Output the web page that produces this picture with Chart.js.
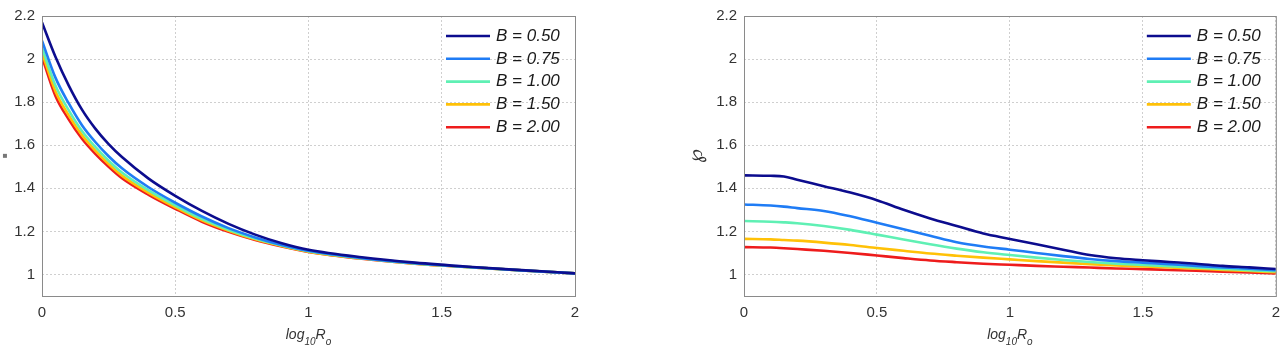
<!DOCTYPE html>
<html>
<head>
<meta charset="utf-8">
<script src="https://cdn.jsdelivr.net/npm/chart.js@4.4.0/dist/chart.umd.min.js"></script>
<style>
    body { margin: 0; background: #fff; width: 1288px; height: 348px; overflow: hidden; position: relative; }
    .panel { position: absolute; top: 0; height: 348px; }
</style>
</head>
<body>
<div class="panel" style="left:0;width:640px"><canvas id="leftChart"></canvas></div>
<div class="panel" style="left:644px;width:644px"><canvas id="rightChart"></canvas></div>
<script>
// Series names and colours
const seriesLabels = ['B = 0.50', 'B = 0.75', 'B = 1.00', 'B = 1.50', 'B = 2.00'];
const seriesColors = ['#0c0c8e', '#1f7cf5', '#5ff0b4', '#ffc107', '#ee1c1c'];

// Axis ticks
const xTickValues = [0, 0.5, 1, 1.5, 2];
const yTickValues = [1, 1.2, 1.4, 1.6, 1.8, 2, 2.2];

// Left panel
const xLeft = [0, 0.05, 0.1, 0.15, 0.2, 0.25, 0.3, 0.4, 0.5, 0.6, 0.7, 0.8, 0.9, 1.0, 1.2, 1.4, 1.6, 1.8, 2.0];
const leftB050 = [2.17, 2.012, 1.878, 1.765, 1.677, 1.605, 1.545, 1.445, 1.365, 1.295, 1.235, 1.185, 1.145, 1.115, 1.08, 1.055, 1.036, 1.02, 1.005];
const leftB075 = [2.085, 1.915, 1.795, 1.693, 1.615, 1.549, 1.493, 1.405, 1.333, 1.269, 1.215, 1.172, 1.137, 1.11, 1.076, 1.052, 1.035, 1.019, 1.005];
const leftB100 = [2.053, 1.878, 1.763, 1.666, 1.592, 1.528, 1.473, 1.39, 1.321, 1.258, 1.208, 1.167, 1.134, 1.108, 1.075, 1.051, 1.034, 1.019, 1.005];
const leftB150 = [2.03, 1.852, 1.739, 1.647, 1.575, 1.513, 1.459, 1.379, 1.312, 1.251, 1.203, 1.163, 1.132, 1.106, 1.074, 1.05, 1.034, 1.019, 1.005];
const leftB200 = [2.01, 1.83, 1.72, 1.63, 1.56, 1.50, 1.447, 1.37, 1.305, 1.245, 1.198, 1.16, 1.13, 1.105, 1.073, 1.05, 1.034, 1.019, 1.005];

// Right panel
const xRight = [0, 0.1, 0.15, 0.2, 0.3, 0.4, 0.5, 0.6, 0.7, 0.8, 0.9, 1.0, 1.1, 1.2, 1.3, 1.4, 1.5, 1.6, 1.7, 1.8, 1.9, 2.0];
const rightB050 = [1.46, 1.458, 1.455, 1.44, 1.41, 1.38, 1.345, 1.30, 1.26, 1.225, 1.19, 1.165, 1.14, 1.115, 1.09, 1.075, 1.066, 1.058, 1.05, 1.04, 1.033, 1.025];
const rightB075 = [1.325, 1.32, 1.315, 1.308, 1.295, 1.27, 1.24, 1.21, 1.18, 1.15, 1.13, 1.115, 1.10, 1.085, 1.072, 1.062, 1.055, 1.048, 1.04, 1.033, 1.027, 1.02];
const rightB100 = [1.248, 1.245, 1.242, 1.238, 1.225, 1.207, 1.185, 1.162, 1.14, 1.12, 1.103, 1.09, 1.078, 1.067, 1.058, 1.05, 1.044, 1.038, 1.032, 1.026, 1.02, 1.015];
const rightB150 = [1.165, 1.163, 1.16, 1.157, 1.148, 1.137, 1.123, 1.11, 1.097, 1.087, 1.078, 1.07, 1.062, 1.055, 1.048, 1.042, 1.037, 1.032, 1.027, 1.021, 1.016, 1.01];
const rightB200 = [1.127, 1.125, 1.122, 1.118, 1.11, 1.10, 1.088, 1.076, 1.065, 1.057, 1.05, 1.045, 1.04, 1.036, 1.032, 1.028, 1.025, 1.021, 1.017, 1.013, 1.009, 1.005];

const FONT = "'Liberation Sans', Arial, sans-serif";

function buildDatasets(xs, seriesList) {
    return seriesList.map((vals, i) => ({
        label: seriesLabels[i],
        data: xs.map((x, j) => ({ x: x, y: vals[j] })),
        borderColor: seriesColors[i],
        borderWidth: 2.6,
        pointRadius: 0,
        cubicInterpolationMode: 'monotone',
        fill: false
    }));
}

// Box frame round the plot area, like the MATLAB axes
const framePlugin = {
    id: 'frame',
    afterDatasetsDraw(chart) {
        const { ctx, chartArea: a } = chart;
        ctx.save();
        ctx.strokeStyle = '#8a8a8a';
        ctx.lineWidth = 1;
        ctx.strokeRect(a.left + 0.5, a.top + 0.5, a.right - a.left, a.bottom - a.top);
        ctx.restore();
    }
};

// Legend drawn inside the top right corner of the plot area
const innerLegendPlugin = {
    id: 'innerLegend',
    afterDatasetsDraw(chart) {
        const { ctx, chartArea: a } = chart;
        ctx.save();
        ctx.font = 'italic 17px ' + FONT;
        ctx.textBaseline = 'middle';
        chart.data.datasets.forEach((ds, i) => {
            const y = a.top + 20 + i * 22.8;
            ctx.strokeStyle = ds.borderColor;
            ctx.lineWidth = 2.6;
            ctx.beginPath();
            ctx.moveTo(a.right - 129, y);
            ctx.lineTo(a.right - 85, y);
            ctx.stroke();
            ctx.fillStyle = '#1a1a1a';
            ctx.fillText(ds.label, a.right - 79, y);
        });
        ctx.restore();
    }
};

// x axis title log10Ro with subscripts
const xTitlePlugin = {
    id: 'xTitle',
    afterDraw(chart) {
        const { ctx, chartArea: a } = chart;
        const parts = [
            { t: 'log', size: 14, dy: 0 },
            { t: '10', size: 10, dy: 6 },
            { t: 'R', size: 14, dy: 0 },
            { t: 'o', size: 10, dy: 6 }
        ];
        ctx.save();
        ctx.fillStyle = '#333';
        ctx.textBaseline = 'alphabetic';
        let total = 0;
        parts.forEach(p => {
            ctx.font = 'italic ' + p.size + 'px ' + FONT;
            p.w = ctx.measureText(p.t).width;
            total += p.w;
        });
        let x = (a.left + a.right) / 2 - total / 2;
        const base = 339;
        parts.forEach(p => {
            ctx.font = 'italic ' + p.size + 'px ' + FONT;
            ctx.fillText(p.t, x, base + p.dy);
            x += p.w;
        });
        ctx.restore();
    }
};

function makeChart(id, xs, seriesList, opts) {
    return new Chart(document.getElementById(id), {
        type: 'line',
        data: { datasets: buildDatasets(xs, seriesList) },
        options: {
            responsive: true,
            maintainAspectRatio: false,
            animation: false,
            layout: { padding: { top: 15, right: opts.padRight, left: opts.padLeft, bottom: 0 } },
            plugins: { legend: { display: false }, tooltip: { enabled: false } },
            scales: {
                x: {
                    type: 'linear',
                    min: 0,
                    max: 2,
                    afterBuildTicks: s => { s.ticks = xTickValues.map(v => ({ value: v })); },
                    afterFit: s => { s.height = 52; },
                    grid: { color: '#cfcfcf', drawTicks: false },
                    border: { display: false, dash: [2, 2] },
                    ticks: {
                        padding: 8,
                        color: '#333',
                        font: { family: FONT, size: 15 },
                        callback: v => String(+v.toFixed(2))
                    }
                },
                y: {
                    min: 0.9,
                    max: 2.2,
                    afterBuildTicks: s => { s.ticks = yTickValues.map(v => ({ value: v })); },
                    afterFit: s => { s.width = opts.yWidth; },
                    grid: { color: '#cfcfcf', drawTicks: false },
                    border: { display: false, dash: [2, 2] },
                    ticks: {
                        padding: 7,
                        color: '#333',
                        font: { family: FONT, size: 15 },
                        callback: v => String(+v.toFixed(2))
                    },
                    title: {
                        display: true,
                        text: opts.yTitle,
                        color: opts.yTitleColor,
                        padding: { top: 0, bottom: 0 },
                        font: { family: "'DejaVu Sans', sans-serif", size: opts.yTitleSize }
                    }
                }
            }
        },
        plugins: [framePlugin, innerLegendPlugin, xTitlePlugin]
    });
}

makeChart('leftChart', xLeft, [leftB050, leftB075, leftB100, leftB150, leftB200],
    { padLeft: 0, padRight: 65, yWidth: 42, yTitle: '\u25AA', yTitleSize: 8, yTitleColor: '#777' });
makeChart('rightChart', xRight, [rightB050, rightB075, rightB100, rightB150, rightB200],
    { padLeft: 41, padRight: 11, yWidth: 59, yTitle: '\u2118', yTitleSize: 20, yTitleColor: '#333' });
</script>
</body>
</html>
